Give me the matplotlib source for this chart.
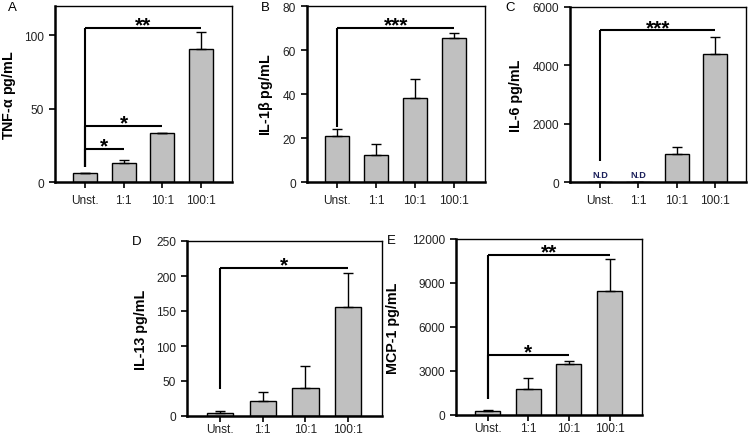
import matplotlib
matplotlib.use("Agg")
import matplotlib.pyplot as plt
import numpy as np

plt.rcParams['font.family'] = ['Liberation Sans', 'DejaVu Sans']

categories = ["Unst.", "1:1", "10:1", "100:1"]

tnf_mean = [6, 12.8, 33.6, 91]
tnf_err = [0, 2.5, 0, 11.5]
il1b_mean = [21, 12.3, 38.1, 65.6]
il1b_err = [3, 4.9, 8.7, 2.2]
il6_mean = [0, 0, 960, 4393]
il6_err = [0, 0, 245, 574]
il13_mean = [4.3, 21.9, 40, 155.7]
il13_err = [2.7, 12.4, 32, 49]
mcp1_mean = [295, 1781, 3446, 8425]
mcp1_err = [70, 753, 254, 2191]

W, H = 748, 439
fig = plt.figure(figsize=(W / 100, H / 100), dpi=100)


def add_ax(x0, x1, y0, y1):
    return fig.add_axes([x0 / W, 1 - y1 / H, (x1 - x0) / W, (y1 - y0) / H])


def panel(ax, box, means, errs, ylim, yticks, ylabel, letter, letter_xy, ylabel_x, xpad):
    x = np.arange(len(categories))
    ax.bar(x, means, width=0.62, color="#c0c0c0", edgecolor="black", linewidth=1.0, zorder=2)
    ax.errorbar(x, means, yerr=[[0] * len(errs), errs], fmt="none", ecolor="black",
                elinewidth=1.0, capsize=3.5, capthick=1.0, zorder=3)
    ax.set_xlim(-0.78, 3.8)
    ax.set_ylim(*ylim)
    ax.set_yticks(yticks)
    ax.set_xticks(x)
    ax.set_xticklabels(categories, fontsize=8.6, color="#222222")
    ax.tick_params(axis="y", labelsize=8.6, labelcolor="#222222", direction="out",
                   length=4, width=1.2, pad=4)
    ax.tick_params(axis="x", direction="out", length=4, width=1.2, pad=xpad)
    for s in ["left", "bottom"]:
        ax.spines[s].set_linewidth(1.8)
    for s in ["top", "right"]:
        ax.spines[s].set_linewidth(1.0)
    x0, x1, y0, y1 = box
    fig.text(ylabel_x / W, 1 - 0.5 * (y0 + y1) / H, ylabel, rotation=90, ha="center",
             va="center", fontsize=10.3, fontweight="bold")
    fig.text(letter_xy[0] / W, 1 - letter_xy[1] / H, letter, fontsize=9.5, ha="center",
             va="center")


def bracket(ax, x_end, y_line, y_low, stars, star_size=15):
    ax.plot([0, 0], [y_low, y_line], color="black", lw=1.5, zorder=4, solid_capstyle="butt")
    ax.plot([0, x_end], [y_line, y_line], color="black", lw=1.5, zorder=4, solid_capstyle="butt")
    ax.annotate(stars, xy=(x_end / 2, y_line), xytext=(0, -2.0), textcoords="offset points",
                ha="center", va="baseline", fontsize=star_size, fontweight="bold", zorder=5)


# A
boxA = (55, 232, 7, 183)
axA = add_ax(*boxA)
panel(axA, boxA, tnf_mean, tnf_err, (0, 120), [0, 50, 100], r"TNF-$\mathregular{\alpha}$ pg/mL",
      "A", (12, 8), 9, 5)
bracket(axA, 3, 105, 10, "**")
bracket(axA, 2, 38.5, 10, "*")
bracket(axA, 1, 22.6, 10, "*")

# B
boxB = (307, 485, 7, 183)
axB = add_ax(*boxB)
panel(axB, boxB, il1b_mean, il1b_err, (0, 80), [0, 20, 40, 60, 80],
      r"IL-1$\mathregular{\beta}$ pg/mL", "B", (265, 8), 266, 5)
bracket(axB, 3, 70.2, 25, "***")

# C
boxC = (570, 746, 8, 183)
axC = add_ax(*boxC)
panel(axC, boxC, il6_mean, il6_err, (0, 6000), [0, 2000, 4000, 6000], "IL-6 pg/mL",
      "C", (510, 8), 516, 5)
bracket(axC, 3, 5195, 720, "***")
for i in [0, 1]:
    axC.annotate("N.D", xy=(i, 0), xytext=(0, 2), textcoords="offset points", ha="center",
                 va="bottom", fontsize=6.6, fontweight="bold", color="#1a1f5a", zorder=5)

# D
boxD = (187, 382, 242, 417)
axD = add_ax(*boxD)
panel(axD, boxD, il13_mean, il13_err, (0, 250), [0, 50, 100, 150, 200, 250], "IL-13 pg/mL",
      "D", (137, 242), 141, 1)
bracket(axD, 3, 211.4, 38, "*")

# E
boxE = (456, 642, 240, 416)
axE = add_ax(*boxE)
panel(axE, boxE, mcp1_mean, mcp1_err, (0, 12000), [0, 3000, 6000, 9000, 12000], "MCP-1 pg/mL",
      "E", (391, 241), 393, 1)
bracket(axE, 3, 10910, 1096, "**")
bracket(axE, 2, 4089, 1096, "*")

fig.savefig("out.png", dpi=100)
